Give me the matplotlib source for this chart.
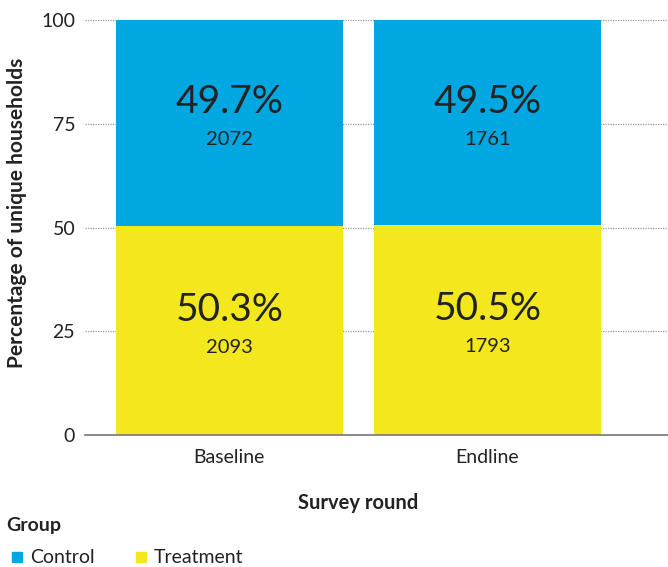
import matplotlib.pyplot as plt
from matplotlib.lines import Line2D

plt.rcParams['font.family'] = ['Lato', 'DejaVu Sans']

rounds = ['Baseline', 'Endline']
treatment_pct = [50.3, 50.5]
control_pct = [49.7, 49.5]
treatment_n = [2093, 1793]
control_n = [2072, 1761]

blue = '#00A7E0'
yellow = '#F3E71E'
txt = '#222222'

fig = plt.figure(figsize=(6.68, 5.67), dpi=100)
ax = fig.add_axes([0.1272, 0.2328, 0.8728, 0.7319])

x = range(len(rounds))
ax.bar(x, treatment_pct, width=0.88, color=yellow, zorder=2)
ax.bar(x, control_pct, width=0.88, bottom=treatment_pct, color=blue, zorder=2)

# labels inside each segment: percentage on top, count below
for i in x:
    segs = [(0, treatment_pct[i], treatment_n[i]),
            (treatment_pct[i], control_pct[i], control_n[i])]
    for base, pct, n in segs:
        mid = base + pct / 2
        ax.annotate(f'{pct}%', (i, mid), xytext=(0, 15), textcoords='offset points',
                    ha='center', va='center', fontsize=28, color=txt)
        ax.annotate(f'{n}', (i, mid), xytext=(0, -12), textcoords='offset points',
                    ha='center', va='center', fontsize=14.5, color=txt)

ax.set_xlim(-0.56, 1.70)
ax.set_ylim(0, 100)
ax.set_yticks([0, 25, 50, 75, 100])
ax.set_xticks(list(x))
ax.set_xticklabels(rounds)
ax.tick_params(axis='both', length=0, labelsize=14, colors=txt, pad=7)
ax.tick_params(axis='x', pad=10)
ax.yaxis.grid(True, linestyle=(0, (1, 1)), color='#9a9a9a', linewidth=0.9, zorder=0)
for s in ['top', 'right', 'left']:
    ax.spines[s].set_visible(False)
ax.spines['bottom'].set_color('#777777')
ax.spines['bottom'].set_linewidth(1.2)
ax.spines['bottom'].set_zorder(3)

ax.set_ylabel('Percentage of unique households', fontsize=15, fontweight='bold',
              color=txt)
ax.yaxis.set_label_coords(-0.0995, 0.535)
ax.set_xlabel('Survey round', fontsize=14.5, fontweight='bold', color=txt)
ax.xaxis.set_label_coords(0.469, -0.14)

fig.text(0.010, 0.073, 'Group', fontsize=14, fontweight='bold', color=txt,
         va='center', ha='left')
handles = [Line2D([], [], marker='s', linestyle='', color=blue, markersize=7),
           Line2D([], [], marker='s', linestyle='', color=yellow, markersize=7)]
fig.legend(handles, ['Control', 'Treatment'], loc='center left',
           bbox_to_anchor=(-0.012, 0.016), ncol=2, frameon=False, fontsize=14,
           handlelength=0.8, handletextpad=0.25, columnspacing=2.0,
           labelcolor=txt)

fig.savefig('out.png', dpi=100)
